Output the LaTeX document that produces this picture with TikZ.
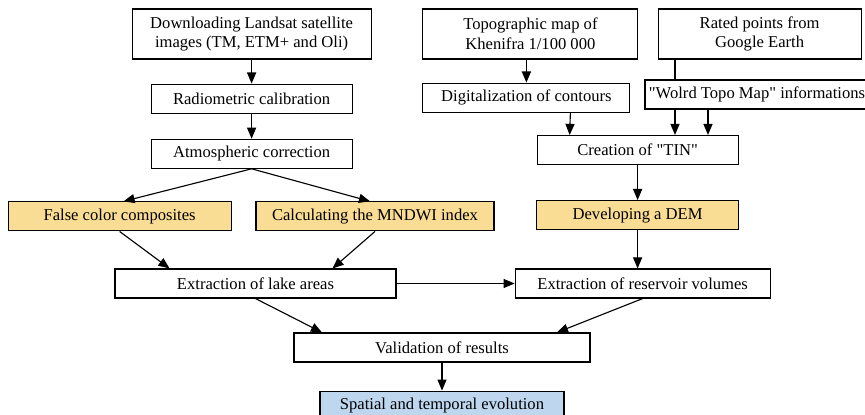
\documentclass[tikz,border=0pt]{standalone}
\usepackage{fontspec}
\setmainfont{Liberation Serif}
\usepackage{tikz}
\usetikzlibrary{positioning,arrows}
\definecolor{boxyellow}{RGB}{250,221,148}
\definecolor{boxblue}{RGB}{190,215,238}
\tikzstyle{w}=[draw, rectangle, inner sep=2pt, minimum height=0.725cm, align=center, font=\fontsize{11.8}{14}\selectfont]
\tikzstyle{wy}=[w, fill = boxyellow]
\tikzstyle{wb}=[w, fill = boxblue]

\begin{document}
\begin{tikzpicture}[thick]
	\useasboundingbox (0,0) rectangle (21.625,-10.375);
	% satellite column
	\node[w, minimum width=5.975cm, minimum height=1.25cm] (Dl) at (6.29,-0.85) {Downloading Landsat satellite\\images (TM, ETM+ and Oli)};
	\node[w, minimum width=5.025cm] (Ra) [below = 0.6cm of Dl] {Radiometric calibration};
	\node[w, minimum width=5.025cm] (At) [below = 0.625cm of Ra] {Atmospheric correction};
	\node[wy, minimum width=5.575cm] (Fc) at (2.99,-5.41) {False color composites};
	\node[wy, minimum width=5.95cm] (Mn) at (9.375,-5.41) {Calculating the MNDWI index};
	% relief column
	\node[w, minimum width=5.375cm, minimum height=1.25cm] (To) at (13.26,-0.85) {Topographic map of\\Khenifra 1/100 000};
	\node[w, minimum width=5.075cm, minimum height=1.25cm] (Rp) at (18.99,-0.85) {Rated points from\\Google Earth};
	\node[w, minimum width=5.175cm] (Di) at (13.16,-2.44) {Digitalization of contours};
	\node[w, minimum width=5.6cm] (Wt) at (18.925,-2.3625) {\textquotedbl Wolrd Topo Map\textquotedbl{} informations};
	\node[w, minimum width=5.025cm] (Ti) at (15.94,-3.75) {Creation of \textquotedbl TIN\textquotedbl};
	\node[wy, minimum width=5.05cm] (De) [below = 0.875cm of Ti] {Developing a DEM};
	% results
	\node[w, minimum width=7.025cm] (La) at (6.3875,-7.0875) {Extraction of lake areas};
	\node[w, minimum width=6.375cm] (Re) [right = 2.95cm of La] {Extraction of reservoir volumes};
	\node[w, minimum width=7.4cm] (Va) at (11.05,-8.6875) {Validation of results};
	\node[wb, minimum width=6.1cm] (Sp) [below = 0.7cm of Va] {Spatial and temporal evolution};
	\coordinate (Rq) at ([xshift=-2.05cm]Wt.north);
	\coordinate (T1) at ([xshift=-2.05cm]Wt.south);
	\coordinate (T2) at ([xshift=-1.225cm]Wt.south);
	
	\draw (Dl) edge[->,>=triangle 45] (Ra);
	\draw (Ra) edge[->,>=triangle 45] (At);
	\draw (At.south) edge[->,>=triangle 45] ([xshift=0.1cm]Fc.north);
	\draw (At.south) edge[->,>=triangle 45] ([xshift=-0.125cm]Mn.north);
	\draw (Fc.south) edge[->,>=triangle 45] ([xshift=-2.15cm]La.north);
	\draw (Mn.south) edge[->,>=triangle 45] ([xshift=1.925cm]La.north);
	\draw (Di.north |- To.south) edge[->,>=triangle 45] (Di.north);
	\draw ([xshift=1.1cm]Di.south) edge[->,>=triangle 45] ([xshift=-1.7cm]Ti.north);
	\draw (Rq |- Rp.south) -- (Rq);
	\draw (T1) edge[->,>=triangle 45] (T1 |- Ti.north);
	\draw (T2) edge[->,>=triangle 45] (T2 |- Ti.north);
	\draw (Ti) edge[->,>=triangle 45] (De);
	\draw (De.south) edge[->,>=triangle 45] (De.south |- Re.north);
	\draw (La) edge[->,>=triangle 45] (Re);
	\draw (La.south) edge[->,>=triangle 45] ([xshift=-3cm]Va.north);
	\draw (Re.south) edge[->,>=triangle 45] ([xshift=2.875cm]Va.north);
	\draw (Va) edge[->,>=triangle 45] (Sp);
	
\end{tikzpicture}
\end{document}
